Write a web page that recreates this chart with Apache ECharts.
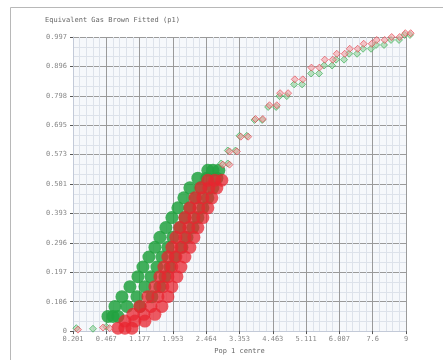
<!DOCTYPE html>
<html>
<head>
<meta charset="utf-8">
<script src="https://cdn.jsdelivr.net/npm/echarts@6/dist/echarts.min.js"></script>
<style>
  html, body { margin: 0; padding: 0; background: #fff; }
  #chart { width: 443px; height: 360px; }
</style>
</head>
<body>
<div id="chart"></div>
<script>
// tick labels (equally spaced ticks)
const xTickLabels = ['0.201', '0.467', '1.177', '1.953', '2.464', '3.353', '4.463', '5.111', '6.007', '7.6', '9'];
const yTickLabels = ['0', '0.106', '0.197', '0.296', '0.393', '0.501', '0.573', '0.695', '0.798', '0.896', '0.997'];

// green group: [x, y]
const greenPoints = [
  [0.10, 0.010], [0.60, 0.008], [1.00, 0.015],
  [1.05, 0.050], [1.20, 0.050], [1.35, 0.050],
  [1.26, 0.084], [1.62, 0.084], [2.01, 0.084],
  [1.47, 0.117], [1.92, 0.117], [2.37, 0.117],
  [1.71, 0.151], [2.16, 0.151], [2.61, 0.151],
  [1.95, 0.185], [2.34, 0.185], [2.76, 0.185],
  [2.10, 0.218], [2.52, 0.218], [2.91, 0.218],
  [2.28, 0.252], [2.67, 0.252], [3.06, 0.252],
  [2.46, 0.285], [2.85, 0.285], [3.27, 0.285],
  [2.61, 0.319], [3.00, 0.319], [3.42, 0.319],
  [2.79, 0.352], [3.21, 0.352], [3.60, 0.352],
  [2.97, 0.386], [3.36, 0.386], [3.75, 0.386],
  [3.15, 0.419], [3.51, 0.419], [3.90, 0.419],
  [3.33, 0.453], [3.69, 0.453], [4.05, 0.453],
  [3.51, 0.487], [3.84, 0.487], [4.20, 0.487],
  [3.75, 0.520], [4.02, 0.520], [4.32, 0.520],
  [4.05, 0.547], [4.20, 0.547], [4.38, 0.547],
  [4.45, 0.570], [4.65, 0.570],
  [4.65, 0.614], [4.88, 0.614],
  [5.00, 0.664], [5.22, 0.664],
  [5.45, 0.718], [5.68, 0.718],
  [5.86, 0.762], [6.10, 0.762],
  [6.20, 0.799], [6.42, 0.799],
  [6.64, 0.839], [6.88, 0.839],
  [7.15, 0.876], [7.39, 0.876],
  [7.54, 0.903], [7.78, 0.903],
  [7.90, 0.923], [8.14, 0.923],
  [8.29, 0.943], [8.53, 0.943],
  [8.71, 0.960], [8.95, 0.960],
  [9.10, 0.973], [9.34, 0.973],
  [9.55, 0.990], [9.79, 0.990],
  [9.96, 1.007], [10.12, 1.007]
];

// red group: [x, y]
const redPoints = [
  [0.15, 0.005], [0.90, 0.012], [1.10, 0.010],
  [1.35, 0.010], [1.56, 0.010], [1.77, 0.010],
  [1.56, 0.034], [1.86, 0.034], [2.16, 0.034],
  [1.80, 0.057], [2.13, 0.057], [2.46, 0.057],
  [2.01, 0.084], [2.34, 0.084], [2.67, 0.084],
  [2.25, 0.117], [2.55, 0.117], [2.85, 0.117],
  [2.46, 0.151], [2.70, 0.151], [2.97, 0.151],
  [2.61, 0.185], [2.85, 0.185], [3.12, 0.185],
  [2.73, 0.218], [2.97, 0.218], [3.24, 0.218],
  [2.85, 0.252], [3.09, 0.252], [3.36, 0.252],
  [2.97, 0.285], [3.24, 0.285], [3.51, 0.285],
  [3.09, 0.319], [3.36, 0.319], [3.63, 0.319],
  [3.21, 0.352], [3.48, 0.352], [3.75, 0.352],
  [3.36, 0.386], [3.63, 0.386], [3.90, 0.386],
  [3.51, 0.419], [3.78, 0.419], [4.05, 0.419],
  [3.66, 0.453], [3.90, 0.453], [4.17, 0.453],
  [3.84, 0.487], [4.08, 0.487], [4.32, 0.487],
  [4.05, 0.513], [4.26, 0.513], [4.47, 0.513],
  [4.50, 0.566], [4.70, 0.566],
  [4.70, 0.611], [4.92, 0.611],
  [5.04, 0.661], [5.26, 0.661],
  [5.48, 0.721], [5.70, 0.721],
  [5.90, 0.768], [6.12, 0.768],
  [6.22, 0.809], [6.46, 0.809],
  [6.66, 0.856], [6.90, 0.856],
  [7.16, 0.896], [7.40, 0.896],
  [7.56, 0.923], [7.80, 0.923],
  [7.92, 0.943], [8.16, 0.943],
  [8.31, 0.960], [8.55, 0.960],
  [8.73, 0.977], [8.97, 0.977],
  [9.12, 0.990], [9.36, 0.990],
  [9.57, 1.000], [9.81, 1.000],
  [9.98, 1.013], [10.14, 1.013]
];

const monoFont = '"DejaVu Sans Mono", "Liberation Mono", monospace';

// the dense lower band and the sparse tails are drawn as separate series
const isTail = (v) => v[1] > 0.555 || (v[1] < 0.03 && v[0] < 1.2);

const bandSeries = (name, points, color, opacity) => ({
  name,
  type: 'scatter',
  data: points.filter((p) => !isTail(p)),
  clip: false,
  symbol: 'circle',
  symbolSize: 13,
  itemStyle: { color, opacity }
});

const tailSeries = (name, points, color, border) => ({
  name,
  type: 'scatter',
  data: points.filter(isTail),
  clip: false,
  symbol: 'diamond',
  symbolSize: 7,
  itemStyle: { color, opacity: 0.6, borderColor: border, borderWidth: 1 }
});

const chart = echarts.init(document.getElementById('chart'), null, { renderer: 'canvas' });

const option = {
  animation: false,
  backgroundColor: '#fff',
  title: {
    text: 'Equivalent Gas Brown Fitted (p1)',
    left: 40,
    top: 12,
    textStyle: { fontFamily: monoFont, fontSize: 7, fontWeight: 'normal', color: '#666' }
  },
  graphic: [
    { type: 'line', shape: { x1: 10.5, y1: 7.5, x2: 443, y2: 7.5 }, style: { stroke: '#b8b8b8', lineWidth: 1 } },
    { type: 'line', shape: { x1: 10.5, y1: 7.5, x2: 10.5, y2: 360 }, style: { stroke: '#b8b8b8', lineWidth: 1 } }
  ],
  grid: {
    left: 73,
    right: 37,
    top: 37,
    bottom: 25,
    show: true,
    backgroundColor: '#f6f8fb',
    borderWidth: 0
  },
  xAxis: {
    type: 'value',
    min: 0,
    max: 10,
    interval: 1,
    name: 'Pop 1 centre',
    nameLocation: 'middle',
    nameGap: 16,
    nameTextStyle: { fontFamily: monoFont, fontSize: 7, color: '#666' },
    axisLine: { show: true, lineStyle: { color: '#c3cad8' } },
    axisTick: { show: true, length: 3, lineStyle: { color: '#555' } },
    axisLabel: {
      fontFamily: monoFont,
      fontSize: 7,
      color: '#888',
      margin: 5,
      formatter: (v) => xTickLabels[Math.round(v)] ?? ''
    },
    splitLine: { show: true, lineStyle: { color: '#9a9a9a', width: 1 } },
    minorTick: { show: false, splitNumber: 5 },
    minorSplitLine: { show: true, lineStyle: { color: '#dde2ea', width: 1 } }
  },
  yAxis: {
    type: 'value',
    min: 0,
    max: 1,
    interval: 0.1,
    axisLine: { show: true, lineStyle: { color: '#c3cad8' } },
    axisTick: { show: true, length: 3, lineStyle: { color: '#555' } },
    axisLabel: {
      fontFamily: monoFont,
      fontSize: 7,
      color: '#888',
      margin: 6,
      formatter: (v) => yTickLabels[Math.round(v * 10)] ?? ''
    },
    splitLine: { show: true, lineStyle: { color: '#9a9a9a', width: 1 } },
    minorTick: { show: false, splitNumber: 3 },
    minorSplitLine: { show: true, lineStyle: { color: '#dde2ea', width: 1 } }
  },
  series: [
    bandSeries('green', greenPoints, '#22a23f', 0.85),
    bandSeries('red', redPoints, '#e8242f', 0.75),
    tailSeries('green tail', greenPoints, '#8fd19a', '#2aa544'),
    tailSeries('red tail', redPoints, '#f4a0a5', '#e23a44')
  ]
};

chart.setOption(option);
</script>
</body>
</html>
